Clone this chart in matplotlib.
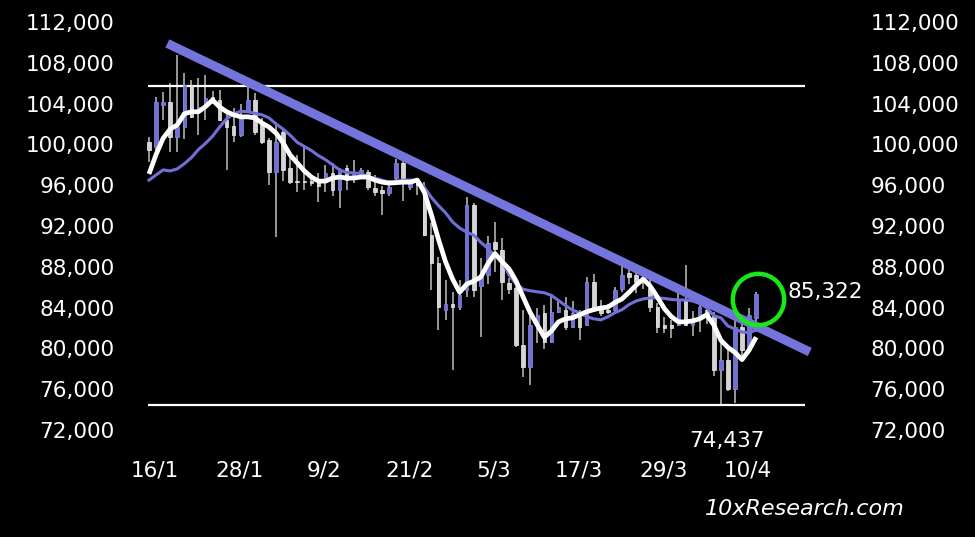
"""
BTC daily candles with trend line, support / resistance and moving averages.
Writes out.png (975x537).
"""

import matplotlib
matplotlib.use("Agg")
import matplotlib.pyplot as plt
import matplotlib.transforms as mtransforms
import numpy as np
import pandas as pd

# ---- data ----
DATES = pd.date_range("2025-01-16", "2025-04-12", freq="D")

OPENS = [100200, 99700, 103900, 104150, 100700, 101700, 105800, 103200, 104050, 104650,
         104350, 102400, 101800, 100900, 103400, 104350, 102100, 100400, 97300, 101200,
         97700, 96400, 96400, 96300, 96500, 96300, 97200, 95500, 97700, 96600,
         97300, 97300, 95700, 95500, 95200, 96700, 98200, 95800, 96300, 95200,
         91100, 88400, 83800, 84400, 84100, 85700, 94100, 86100, 87200, 90400,
         89600, 86400, 85900, 80300, 78200, 82500, 83500, 80600, 83600, 83800,
         82100, 83300, 82300, 86500, 83960, 83800, 83800, 85800, 87400, 87200,
         86600, 85900, 84100, 82300, 82300, 82300, 84750, 82300, 83100, 83800,
         83300, 77900, 78900, 76000, 82100, 79800, 83000]
HIGHS = [100700, 104600, 105100, 106000, 108800, 107000, 106300, 106500, 106800, 105200,
         105300, 103000, 103600, 104000, 105600, 105000, 102600, 100600, 102200, 101600,
         98800, 99000, 99700, 96700, 97200, 98000, 98200, 97700, 98000, 98500,
         97700, 97500, 97000, 95900, 96500, 98600, 98700, 96400, 96500, 96300,
         92300, 89000, 86700, 85500, 86700, 94800, 94300, 88900, 91000, 92400,
         90800, 86900, 86500, 83800, 83500, 84000, 84300, 85100, 84600, 85000,
         84600, 83800, 87000, 87300, 84700, 84400, 86000, 88500, 88500, 87700,
         87600, 87300, 84450, 83100, 82800, 85400, 88200, 83700, 84600, 84000,
         83600, 81200, 80300, 83200, 83000, 84000, 85500]
LOWS = [98300, 99400, 102400, 99250, 99250, 100500, 102600, 100900, 102400, 104000,
        102300, 97500, 100200, 100700, 103100, 100900, 100000, 96000, 90900, 96400,
        96100, 95300, 95500, 95900, 94400, 95300, 94900, 93800, 95500, 96200,
        97000, 95500, 94900, 93100, 94900, 96200, 94500, 95500, 95000, 91000,
        85700, 81800, 82800, 77900, 83800, 85000, 85000, 81100, 86300, 87500,
        84700, 85300, 80100, 77200, 76400, 80500, 79900, 80500, 83500, 81800,
        82000, 80800, 82200, 83600, 83200, 83400, 83600, 85500, 86300, 85400,
        85800, 83600, 81500, 81500, 81000, 82200, 82200, 81200, 81600, 82400,
        77300, 74437, 75800, 74600, 79200, 79500, 82600]
CLOSES = [99450, 104150, 104150, 100700, 101700, 105800, 102700, 103700, 104550, 104150,
          102400, 101700, 100900, 102600, 104350, 101200, 100200, 97300, 100200, 97500,
          96300, 96300, 96300, 96250, 95900, 97200, 95500, 97500, 96500, 97300,
          97500, 95800, 95300, 95200, 95800, 98200, 96200, 96300, 96000, 91100,
          88400, 84100, 84400, 84100, 85200, 94100, 85700, 87200, 90300, 89700,
          86500, 85800, 80300, 78200, 82300, 83300, 80600, 83600, 84100, 82100,
          83500, 82100, 86500, 83800, 83500, 83600, 85700, 87200, 87000, 86500,
          87000, 84100, 82100, 82000, 82000, 84750, 82300, 82700, 84060, 83300,
          77900, 78900, 76000, 82100, 79800, 83300, 85322]

# short moving average (white) and long moving average (purple)
FAST_MA = [97100, 99000, 100600, 101500, 101900, 103000, 103200, 103200, 103700, 104350,
           103670, 103200, 102900, 102700, 102700, 102600, 102100, 101700, 101100, 100140,
           98960, 98180, 97400, 96800, 96400, 96400, 96700, 96800, 96700, 96700,
           96800, 96800, 96500, 96300, 96200, 96250, 96300, 96300, 96500, 95300,
           93100, 90700, 88500, 86800, 85500, 86300, 86600, 87000, 88300, 89300,
           88500, 87800, 86600, 85040, 83500, 82300, 81100, 81700, 82600, 82900,
           83000, 83300, 83600, 83800, 83960, 84050, 84500, 84850, 85500, 86200,
           86800, 86100, 85040, 83900, 83100, 82600, 82600, 82700, 82900, 83300,
           82300, 80800, 80100, 79600, 78900, 79840, 81100]
SLOW_MA = [96500, 97000, 97500, 97400, 97600, 98100, 98700, 99500, 100100, 100800,
           101700, 102500, 103000, 103250, 103200, 103050, 102900, 102600, 102000, 101500,
           100900, 100200, 99800, 99400, 98900, 98500, 98000, 97500, 97250, 97200,
           97150, 96850, 96700, 96500, 96300, 96400, 96500, 96500, 96500, 95800,
           94800, 94000, 93300, 92400, 91800, 91400, 91100, 90400, 89800, 89100,
           88600, 87200, 86300, 85800, 85650, 85550, 85450, 85200, 84700, 84200,
           83750, 83500, 83100, 82900, 82800, 83100, 83500, 83800, 84300, 84650,
           84850, 84950, 84950, 84900, 84800, 84750, 84750, 84650, 84400, 84000,
           83200, 83000, 82200, 81900, 81600, 81550, 81800]

RESISTANCE = 105700
SUPPORT = 74437
LAST_PRICE = 85322
TREND_DAYS = [2.6, 93.6]          # days after 16/1
TREND_VALUES = [109900, 79650]
Y_TICKS = list(range(72000, 112001, 4000))

PURPLE = "#7070d8"
GREY = "#d4d4d4"


def plot_chart(output_path="out.png"):
    fig = plt.figure(figsize=(9.75, 5.37), dpi=100, facecolor="black")
    ax = fig.add_axes([130 / 975, 107 / 537, 725 / 975, 408 / 537], facecolor="black")

    x = np.arange(len(DATES))
    o = np.array(OPENS)
    h = np.array(HIGHS)
    l = np.array(LOWS)
    c = np.array(CLOSES)
    up = c >= o

    # candles
    ax.vlines(x, l, h, color="#b0b0b0", linewidth=1.2, zorder=2)
    body = np.maximum(np.abs(c - o), 150)
    bottom = np.minimum(o, c)
    ax.bar(x[up], body[up], bottom=bottom[up], width=0.5,
           color=PURPLE, edgecolor="#8c8ce6", linewidth=0.5, zorder=3)
    ax.bar(x[~up], body[~up], bottom=bottom[~up], width=0.5,
           color=GREY, edgecolor="#f0f0f0", linewidth=0.5, zorder=3)

    # support / resistance
    ax.hlines([RESISTANCE, SUPPORT], -0.2, 92.9, color="white", linewidth=1.6, zorder=2)

    # moving averages
    ax.plot(x, SLOW_MA, color=PURPLE, linewidth=2.2, zorder=4)
    ax.plot(x, FAST_MA, color="white", linewidth=3.4, zorder=5,
            solid_capstyle="butt", solid_joinstyle="round")

    # trend line
    ax.plot(TREND_DAYS, TREND_VALUES, color="#7474dc", linewidth=6.5,
            solid_capstyle="butt", zorder=6)

    # green circle around the last candle
    ax.plot(x[-1] + 0.3, LAST_PRICE - 500, "o", ms=37, mfc="none",
            mec="#18e818", mew=3.2, zorder=7)

    ax.text(x[-1] + 4.5, LAST_PRICE + 200, f"{LAST_PRICE:,}", color="white",
            fontsize=15.5, ha="left", va="center", zorder=8)
    ax.annotate(f"{SUPPORT:,}", (81.8, SUPPORT), xytext=(0, -26),
                textcoords="offset points", color="white", fontsize=15.5,
                ha="center", va="center", annotation_clip=False)

    ax.set_xlim(-2.69, 100.0)
    ax.set_ylim(72000, 112000)

    ax.set_yticks(Y_TICKS)
    ax.set_yticklabels([f"{v:,}" for v in Y_TICKS])
    tick_idx = x[::12]
    ax.set_xticks(tick_idx)
    ax.set_xticklabels([f"{DATES[i].day}/{DATES[i].month}" for i in tick_idx])

    ax.tick_params(axis="y", length=0, pad=11, labelsize=15.5, colors="white",
                   labelleft=True, labelright=True)
    ax.tick_params(axis="x", length=0, pad=22, labelsize=15.5, colors="white")
    shift = mtransforms.ScaledTranslation(6 / 100, 0, fig.dpi_scale_trans)
    for lbl in ax.get_xticklabels():
        lbl.set_transform(lbl.get_transform() + shift)

    for s in ax.spines.values():
        s.set_visible(False)

    fig.text(905 / 975, 1 - 509 / 537, "10xResearch.com", color="white",
             fontsize=16, style="italic", ha="right", va="center")

    fig.savefig(output_path, dpi=100, facecolor="black")
    plt.close(fig)


def main():
    plot_chart("out.png")


if __name__ == "__main__":
    main()
